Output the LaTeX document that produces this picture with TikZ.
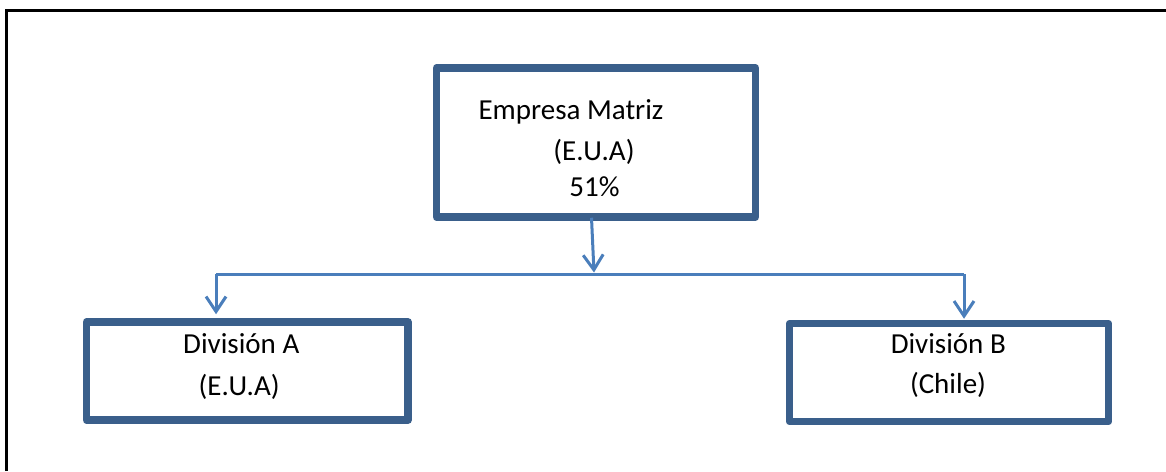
\documentclass[tikz,border=0pt]{standalone}
\usepackage{fontspec}
\setmainfont{Carlito}
\usetikzlibrary{arrows.meta}
\definecolor{boxblue}{HTML}{3A5F8B}
\definecolor{linkblue}{HTML}{4A7EBB}
\begin{document}
\begin{tikzpicture}[x=1pt,y=-1pt,
  box/.style={draw=boxblue, line width=7.5pt, line join=round, rectangle, inner sep=0pt},
  lbl/.style={font=\fontsize{29}{35}\selectfont, inner sep=0pt, anchor=base},
  link/.style={draw=linkblue, line width=3pt},
  arr/.style={link, -{Straight Barb[length=15pt,width=20pt,line width=3pt]}}]
\useasboundingbox (0,0) rectangle (1166,471);
\draw[line width=3pt] (6,471) -- (6,10.5) -- (1166,10.5);

\node[box, minimum width=319pt, minimum height=149pt] (top) at (596,142.5) {};
\node[box, minimum width=321.5pt, minimum height=98pt] (divA) at (247.25,371) {};
\node[box, minimum width=319pt, minimum height=98pt] (divB) at (949,372.5) {};

\node[lbl] (t1) at (571,119) {Empresa Matriz};
\node[lbl] (t2) at (594,160.5) {(E.U.A)};
\node[lbl] (t3) at (594.5,196.5) {51\%};
\node[lbl] (a1) at (241.3,353.3) {División A};
\node[lbl] (a2) at (239.2,395) {(E.U.A)};
\node[lbl] (b1) at (948.3,353.3) {División B};
\node[lbl] (b2) at (948,393.3) {(Chile)};

\coordinate (hub) at (594,272.5);
\coordinate (hl) at (216,274);
\coordinate (hr) at (964,274);
\draw[arr] ([xshift=-4.5pt,yshift=3pt]top.south) -- (hub);
\draw[link] (hl) -- (hr);
\draw[arr, shorten >=4pt] (hl) -- (hl |- divA.north);
\draw[arr, shorten >=1pt] (hr) -- (hr |- divB.north);
\end{tikzpicture}
\end{document}
